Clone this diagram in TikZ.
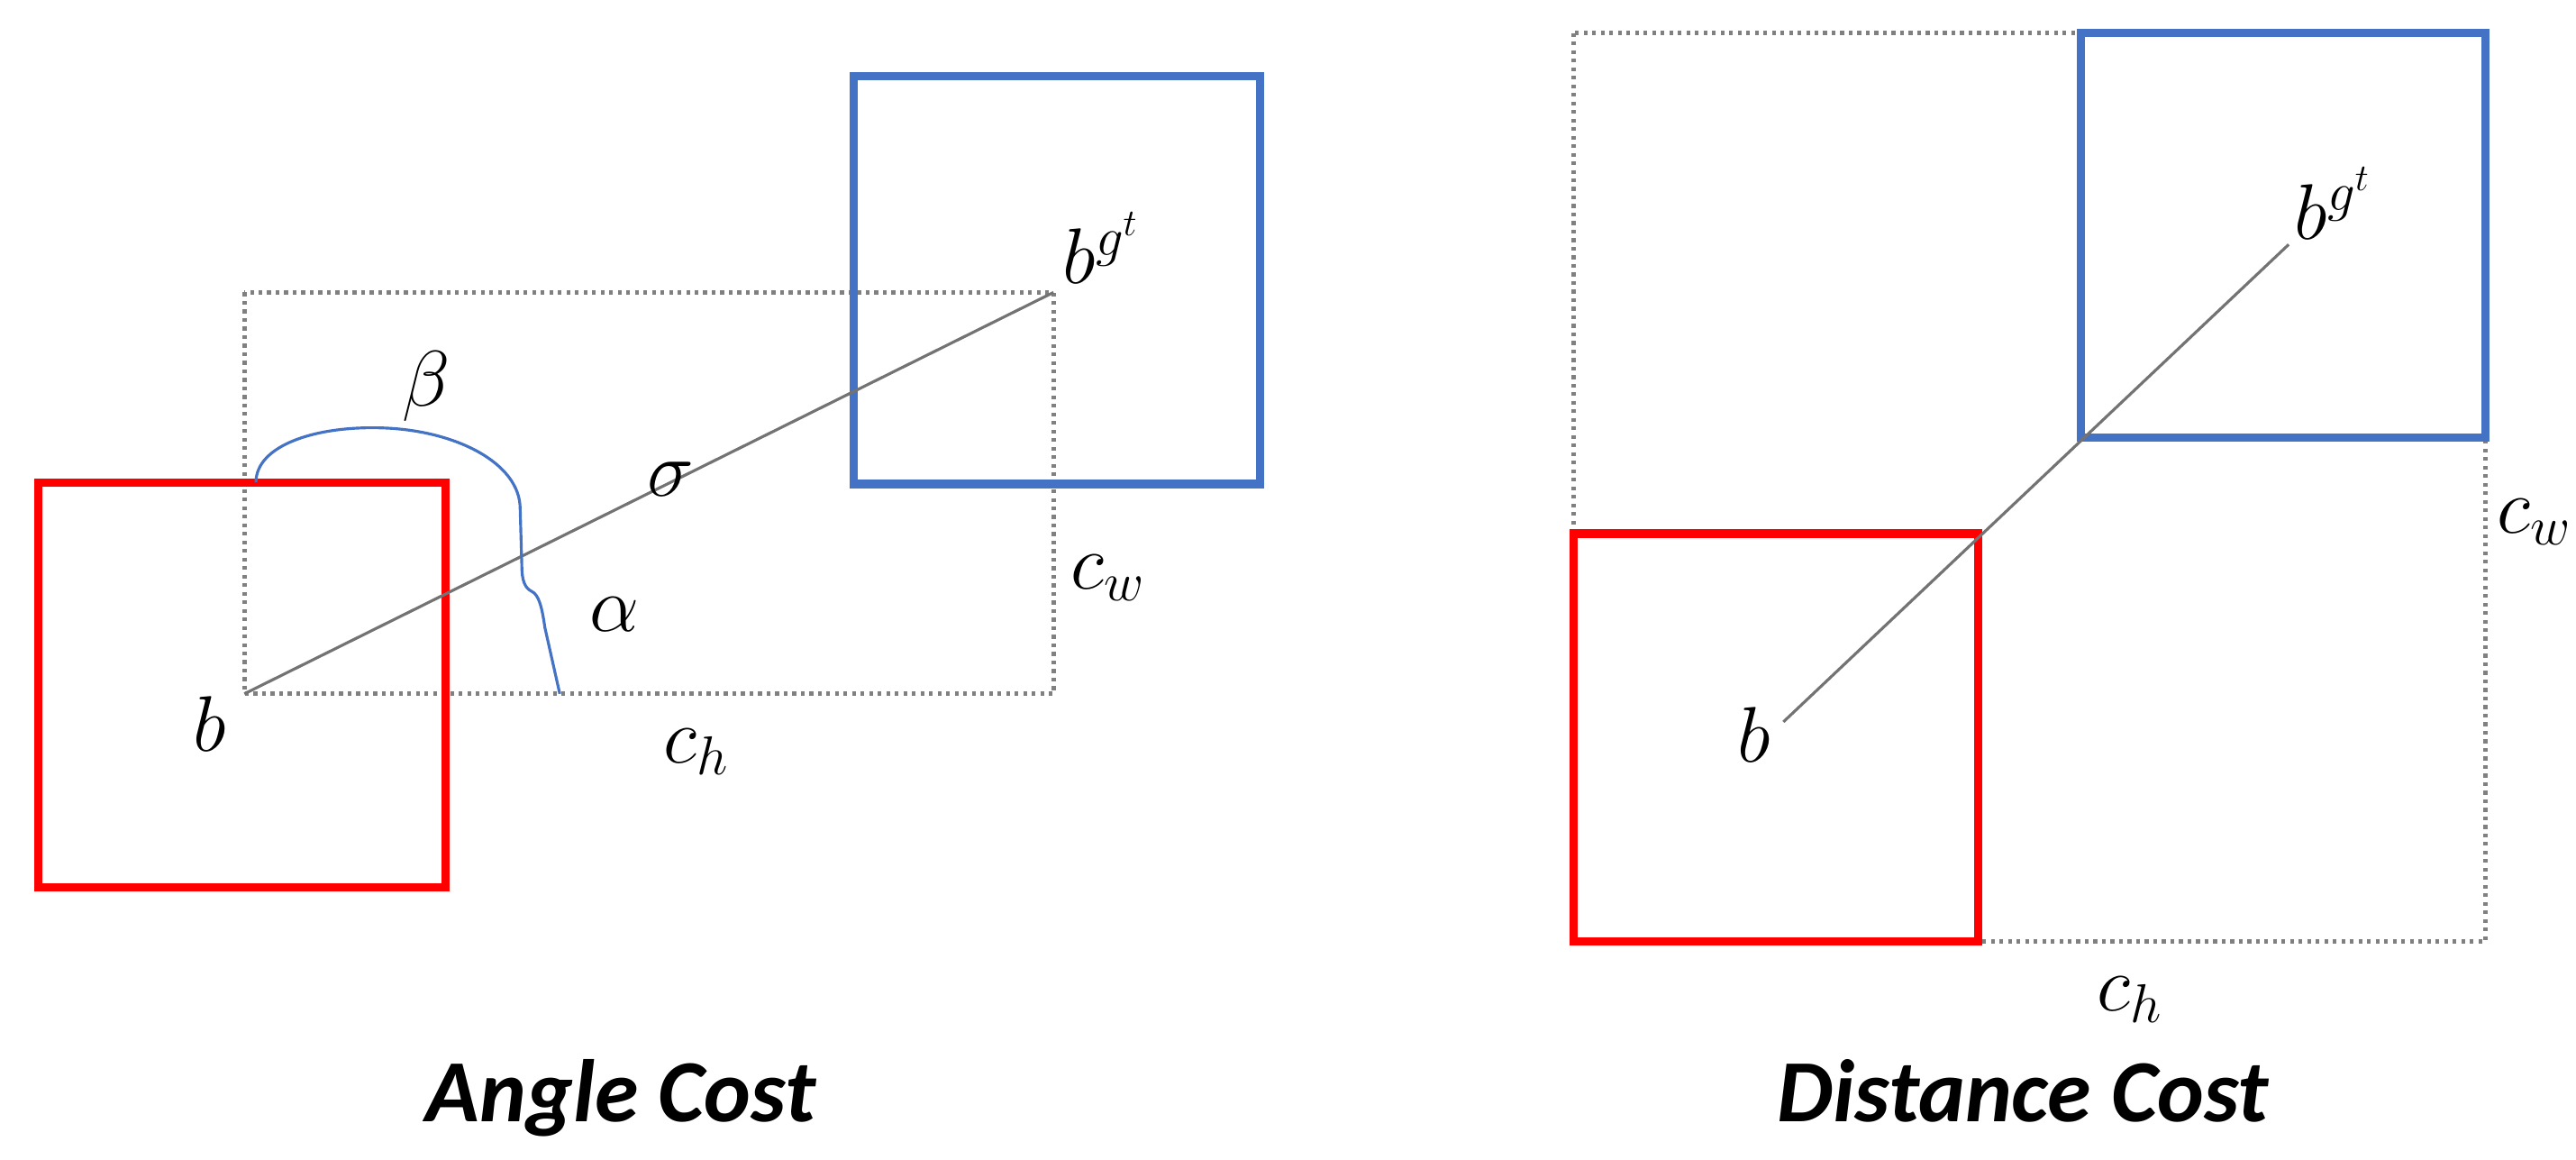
\documentclass[tikz,border=0pt]{standalone}
\usepackage{fontspec}
\newfontfamily\titlefont{Carlito}
\begin{document}
\begin{tikzpicture}[x=0.018327cm,y=-0.018327cm,
  redbox/.style={draw=red,line width=2.6pt},
  bluebox/.style={draw={rgb,255:red,68;green,114;blue,196},line width=2.6pt},
  dotbox/.style={draw=gray,line width=1.3pt,dash pattern=on 1.2pt off 1.5pt},
  diag/.style={draw=gray!90!black,line width=0.9pt},
  lab/.style={font=\fontsize{26}{30}\selectfont,inner sep=0pt},
  ttl/.style={font=\titlefont\bfseries\itshape\fontsize{28}{34}\selectfont,anchor=base,inner sep=0pt}]
\useasboundingbox (0,0) rectangle (1560,701.7);
% Left
\draw[dotbox] (148,177) rectangle (638,420);
\draw[redbox] (23,292) rectangle (270,537);
\draw[bluebox] (517,46) rectangle (763,293);
\coordinate (b1) at (148,420);
\coordinate (g1) at (638,177);
\draw[diag] (b1) -- (g1);
\draw[draw={rgb,255:red,68;green,114;blue,196},line width=0.9pt]
  (155,292) .. controls (155,270) and (190,258) .. (230,259)
  .. controls (275,260) and (315,280) .. (315,308)
  -- (316,342) .. controls (316,352) and (318,356) .. (322,358)
  .. controls (326,360) and (328,366) .. (330,380) -- (339,420);
\node[lab] (beta) at (258,234) {$\beta$};
\node[lab] (sigma) at (406,290) {$\sigma$};
\node[lab] (alpha) at (372,372) {$\alpha$};
\node[lab] (cw1) at (671,350) {$c_w$};
\node[lab] (bl1) at (127,438) {$b$};
\node[lab] (ch1) at (422,455) {$c_h$};
\node[lab] (gt1) at (667,150) {$b^{g^t}$};
\node[ttl] (t1) at (376,679) {Angle Cost};
% Right
\draw[dotbox] (953,20) rectangle (1505,570);
\draw[bluebox] (1260,20) rectangle (1505,265);
\draw[redbox] (953,323) rectangle (1198,570);
\coordinate (b2) at (1080,437);
\coordinate (g2) at (1386,148);
\draw[diag] (b2) -- (g2);
\node[lab] (bl2) at (1062,445) {$b$};
\node[lab] (gt2) at (1413,123) {$b^{g^t}$};
\node[lab] (cw2) at (1535,316) {$c_w$};
\node[lab] (ch2) at (1290,605) {$c_h$};
\node[ttl] (t2) at (1225,679) {Distance Cost};
\end{tikzpicture}
\end{document}
